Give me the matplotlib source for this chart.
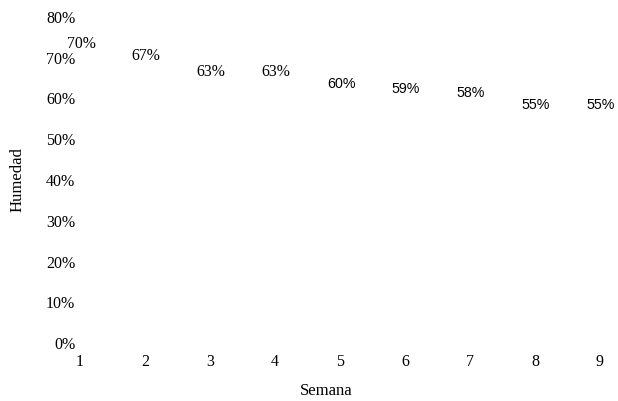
import numpy as np
import matplotlib.pyplot as plt
from matplotlib.ticker import PercentFormatter

# Weekly humidity readings
semanas = [1, 2, 3, 4, 5, 6, 7, 8, 9]
humedad = [0.70, 0.67, 0.63, 0.63, 0.60, 0.59, 0.58, 0.55, 0.55]
etiquetas = ["70%", "67%", "63%", "63%", "60%", "59%", "58%", "55%", "55%"]
y_ticks = [0.0, 0.1, 0.2, 0.3, 0.4, 0.5, 0.6, 0.7, 0.8]

serif = ["Liberation Serif", "DejaVu Serif"]
sans = ["Liberation Sans", "DejaVu Sans"]

fig = plt.figure(figsize=(6.18, 4.01), dpi=100)
ax = fig.add_axes([80 / 618, 58 / 401, 520 / 618, 326 / 401])

# series line is drawn in white, only the value labels show
ax.plot(semanas, humedad, color="white", linewidth=1)

ax.set_xlim(1, 9)
ax.set_ylim(0, 0.8)
ax.set_xticks(semanas)
ax.set_yticks(y_ticks)
ax.yaxis.set_major_formatter(PercentFormatter(1.0, decimals=0))
ax.tick_params(length=0, labelsize=11.5)
ax.tick_params(axis="y", pad=3.5)
ax.tick_params(axis="x", pad=8)
for lbl in ax.get_xticklabels() + ax.get_yticklabels():
    lbl.set_family(serif)
for s in ax.spines.values():
    s.set_visible(False)

for i, (x, y, t) in enumerate(zip(semanas, humedad, etiquetas)):
    fam = serif if i < 4 else sans
    size = 11.3 if i < 4 else 10.3
    ax.annotate(t, (x, y), xytext=(1, 14), textcoords="offset pixels",
                ha="center", va="center", fontsize=size, family=fam,
                annotation_clip=False)

ax.set_xlabel("Semana", fontsize=12, family=serif, va="center")
ax.set_ylabel("Humedad", fontsize=12, family=serif, va="center")
ax.xaxis.set_label_coords((326 - 80) / 520, -(391 - 343) / 326)
ax.yaxis.set_label_coords(-(80 - 18) / 520, 0.5)

fig.savefig("out.png", dpi=100)
